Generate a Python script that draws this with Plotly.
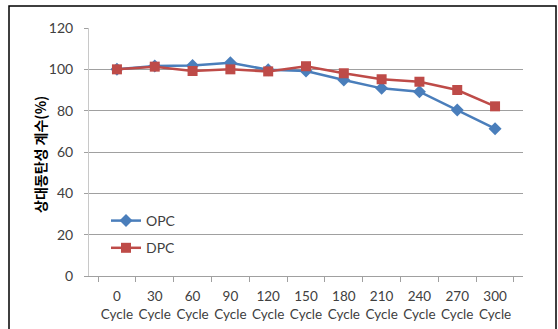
import plotly.graph_objects as go

categories = ["0<br>Cycle", "30<br>Cycle", "60<br>Cycle", "90<br>Cycle", "120<br>Cycle",
              "150<br>Cycle", "180<br>Cycle", "210<br>Cycle", "240<br>Cycle",
              "270<br>Cycle", "300<br>Cycle"]
opc = [100, 101.6, 101.8, 103.2, 99.8, 99.2, 94.8, 90.8, 89.2, 80.3, 71.3]
dpc = [100, 101.3, 99.2, 100.0, 99.0, 101.5, 98.1, 95.2, 94.0, 90.0, 82.1]
y_title = "상대동탄성 계수(%)"

FONT = "Noto Sans CJK KR"
TICKFONT = "Lato"
L, R, T, B = 89, 35, 28, 53
W, H = 558, 329
pw, ph = W - L - R, H - T - B

fig = go.Figure()
fig.add_trace(go.Scatter(x=categories, y=opc, name="OPC", mode="lines+markers",
                         legendgroup="a",
                         line=dict(color="#4A7EBB", width=2.5),
                         marker=dict(symbol="diamond", size=10, color="#4A7EBB")))
fig.add_trace(go.Scatter(x=categories, y=dpc, name="DPC", mode="lines+markers",
                         legendgroup="b",
                         line=dict(color="#BE4B48", width=2.5),
                         marker=dict(symbol="square", size=10, color="#BE4B48")))

fig.update_layout(
    width=W, height=H,
    margin=dict(l=L, r=R, t=T, b=B, autoexpand=False),
    paper_bgcolor="white", plot_bgcolor="white",
    font=dict(family=FONT, size=13, color="#404040"),
    showlegend=True,
    legend=dict(x=(106 - L) / pw, y=(276 - 205) / ph, xanchor="left", yanchor="top",
                bgcolor="rgba(0,0,0,0)", font=dict(family=TICKFONT, size=14, color="#404040"),
                traceorder="grouped", tracegroupgap=6, itemwidth=30),
    xaxis=dict(type="category", tickson="boundaries", ticks="outside", ticklen=5,
               tickcolor="#A0A0A0", showline=True, linecolor="#A0A0A0", linewidth=1,
               showgrid=False, tickangle=0, automargin=False, ticklabelstandoff=8,
               tickfont=dict(family=TICKFONT, size=13.5, color="#404040"), fixedrange=True),
    yaxis=dict(range=[0, 120], dtick=20, ticks="outside", ticklen=4, tickcolor="#A0A0A0",
               showline=True, linecolor="#C8C8C8", linewidth=1, automargin=False,
               showgrid=True, gridcolor="#A0A0A0", gridwidth=1, zeroline=False,
               tickfont=dict(family=TICKFONT, size=14, color="#404040"), ticklabelstandoff=8),
)

fig.add_annotation(text="<b>" + y_title + "</b>", xref="paper", yref="paper",
                   x=(40 - L) / pw, y=(276 - 155) / ph, xanchor="center", yanchor="middle",
                   textangle=-90, showarrow=False,
                   font=dict(family=FONT, size=14, color="#000000"))

# outer chart border
fig.add_shape(type="rect", xref="paper", yref="paper",
              x0=(9 - L) / pw, x1=(556 - L) / pw,
              y0=(H - B - 345) / ph, y1=(H - B - 6) / ph,
              line=dict(color="black", width=1.5), layer="below")

fig.write_html("out.html")
